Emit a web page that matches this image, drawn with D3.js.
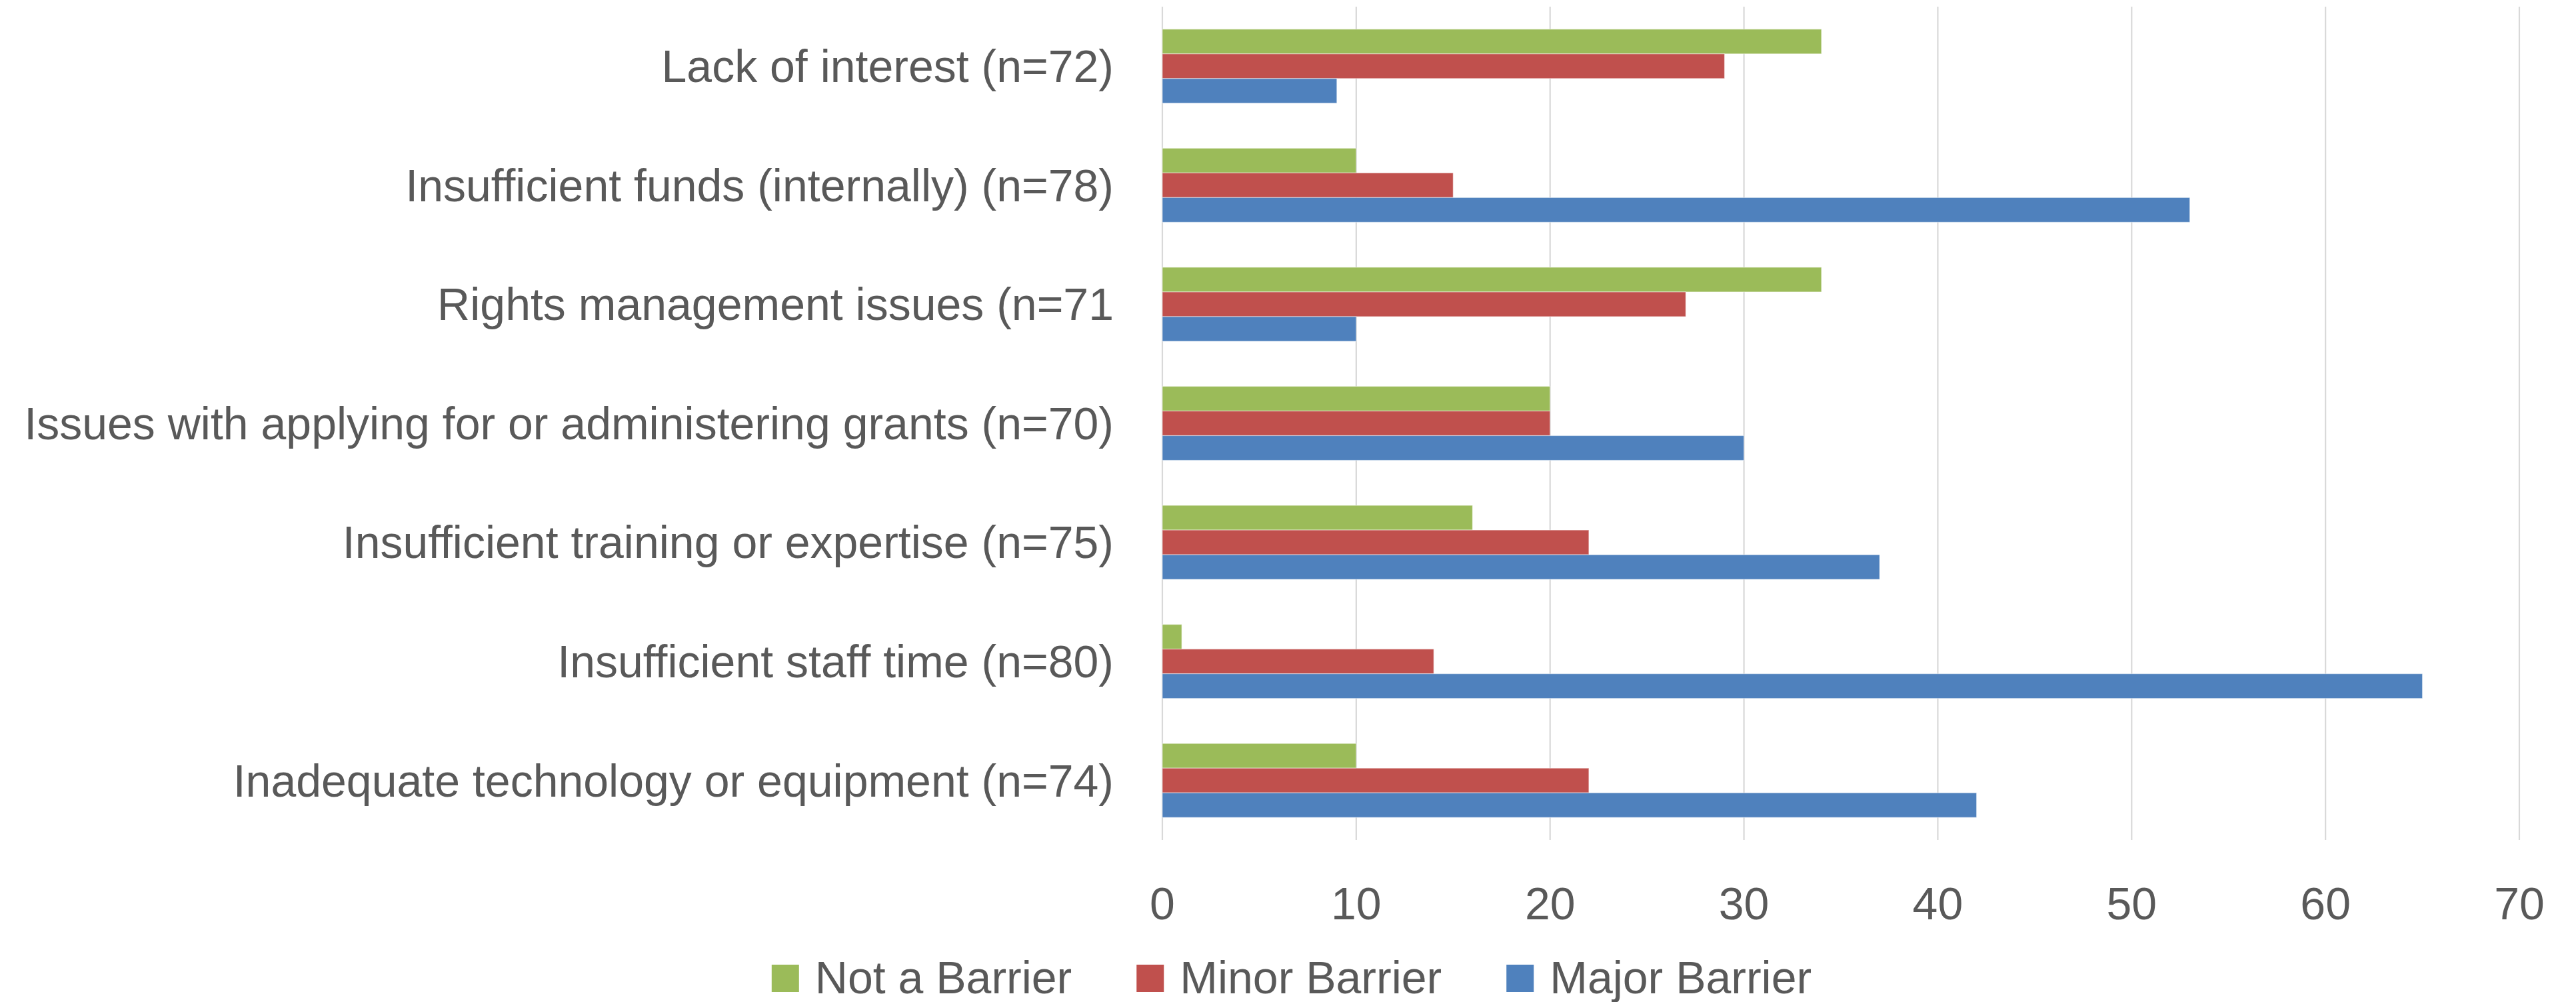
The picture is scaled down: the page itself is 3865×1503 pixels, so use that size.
<!DOCTYPE html>
<html>
<head>
<meta charset="utf-8">
<script src="https://cdn.jsdelivr.net/npm/d3@7"></script>
<style>
    body { margin: 0; background: #fff; }
    text { font-family: 'Liberation Sans', Arial, sans-serif; fill: #595959; }
</style>
</head>
<body>
<div id="svg-container"></div>
<script>
const categories = [
    'Lack of interest (n=72)',
    'Insufficient funds (internally) (n=78)',
    'Rights management issues (n=71',
    'Issues with applying for or administering grants (n=70)',
    'Insufficient training or expertise (n=75)',
    'Insufficient staff time (n=80)',
    'Inadequate technology or equipment (n=74)'
];
const seriesNames = ['Not a Barrier', 'Minor Barrier', 'Major Barrier'];
const notBarrier = [34, 10, 34, 20, 16, 1, 10];
const minorBarrier = [29, 15, 27, 20, 22, 14, 22];
const majorBarrier = [9, 53, 10, 30, 37, 65, 42];
const xTicks = [0, 10, 20, 30, 40, 50, 60, 70];

const barColors = ['#9BBB59', '#C0504D', '#4F81BD'];

const wSvg = 3865, hSvg = 1503;
const xLeft = 1744, xRight = 3780;
const yTop = 10, yBottom = 1260;
const fontSize = 68;

// rows built from the named arrays
const rows = categories.map((c, i) => ({
    name: c,
    values: [notBarrier[i], minorBarrier[i], majorBarrier[i]]
}));

let svg = d3.select('#svg-container')
    .append('svg')
    .attr('width', wSvg)
    .attr('height', hSvg);

const xScale = d3.scaleLinear()
    .domain([0, 70])
    .range([xLeft, xRight]);

const yScale = d3.scaleBand()
    .domain(categories)
    .range([yTop, yBottom])
    .padding(0);

// gap width ~182% like excel
const innerScale = d3.scaleBand()
    .domain(seriesNames)
    .range([0, yScale.bandwidth()])
    .paddingInner(0)
    .paddingOuter(0.913);

const colorScale = d3.scaleOrdinal(seriesNames, barColors);

//#region grid
svg.append('g')
    .classed('grid', true)
    .selectAll('line')
    .data(xTicks)
    .enter()
    .append('line')
    .attr('x1', d => xScale(d))
    .attr('x2', d => xScale(d))
    .attr('y1', yTop)
    .attr('y2', yBottom)
    .attr('stroke', '#D9D9D9')
    .attr('stroke-width', 2.2);
//#endregion

//#region bars
let gRows = svg.append('g')
    .classed('bars', true)
    .selectAll('g')
    .data(rows)
    .enter()
    .append('g')
    .attr('transform', d => `translate(0, ${yScale(d.name)})`);

gRows.selectAll('rect')
    .data(d => d.values.map((v, i) => ({ series: seriesNames[i], value: v })))
    .enter()
    .append('rect')
    .attr('x', xScale(0))
    .attr('y', d => innerScale(d.series))
    .attr('width', d => xScale(d.value) - xScale(0))
    .attr('height', innerScale.bandwidth())
    .attr('fill', d => colorScale(d.series))
    .attr('stroke', 'rgba(255,255,255,0.45)')
    .attr('stroke-width', 1.2);
//#endregion

//#region axes labels
svg.append('g')
    .classed('y-labels', true)
    .selectAll('text')
    .data(categories)
    .enter()
    .append('text')
    .attr('x', xScale(0) - 73)
    .attr('y', d => yScale(d) + yScale.bandwidth() / 2)
    .attr('dy', '0.35em')
    .attr('text-anchor', 'end')
    .style('font-size', fontSize + 'px')
    .text(d => d);

svg.append('g')
    .classed('x-labels', true)
    .selectAll('text')
    .data(xTicks)
    .enter()
    .append('text')
    .attr('x', d => xScale(d))
    .attr('y', 1379)
    .attr('text-anchor', 'middle')
    .style('font-size', fontSize + 'px')
    .text(d => d);
//#endregion

//#region legend
const gLegend = svg.append('g').classed('legend', true);
const sq = 41, sqGap = 24, itemGap = 97;

let items = gLegend.selectAll('g')
    .data(seriesNames)
    .enter()
    .append('g');

items.append('rect')
    .attr('width', sq)
    .attr('height', sq)
    .attr('y', 1447)
    .attr('fill', d => colorScale(d));

items.append('text')
    .attr('x', sq + sqGap)
    .attr('y', 1490)
    .style('font-size', fontSize + 'px')
    .text(d => d);

let widths = [];
items.each(function () {
    widths.push(sq + sqGap + d3.select(this).select('text').node().getComputedTextLength());
});
const total = d3.sum(widths) + itemGap * (widths.length - 1);
let xPos = 1938 - total / 2;
items.attr('transform', (d, i) => {
    const t = `translate(${xPos}, 0)`;
    xPos += widths[i] + itemGap;
    return t;
});
//#endregion
</script>
</body>
</html>
